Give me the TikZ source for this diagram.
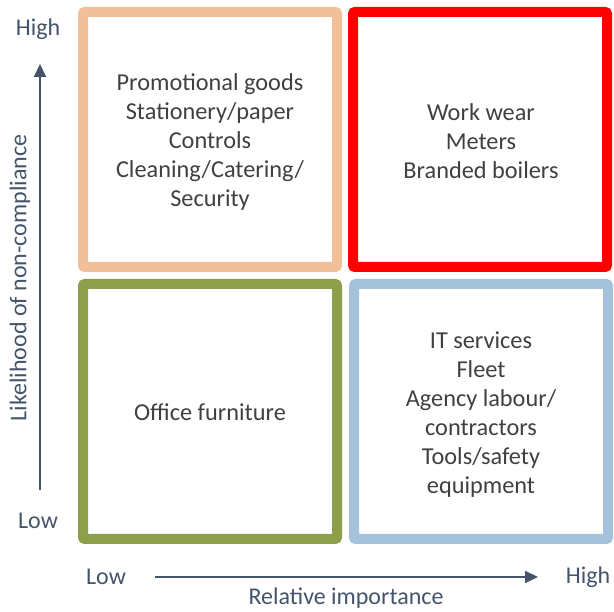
\documentclass[tikz,border=0pt]{standalone}
\usepackage{fontspec}
\setmainfont{Carlito}
\usetikzlibrary{arrows.meta}
\definecolor{cOrange}{HTML}{F2C098}
\definecolor{cRed}{HTML}{FF0000}
\definecolor{cGreen}{HTML}{8E9F4C}
\definecolor{cBlue}{HTML}{A5C2DD}
\definecolor{cAxis}{HTML}{44546A}
\definecolor{cText}{HTML}{404040}
\begin{document}
\begin{tikzpicture}[x=1pt,y=-1pt,
  quad/.style={draw, line width=10pt, rounded corners=2pt, minimum width=254pt, minimum height=255pt, inner sep=0pt, outer sep=0pt, anchor=north west},
  boxtext/.style={text=cText, font=\fontsize{24.3}{29}\selectfont, align=center},
  axlabel/.style={text=cAxis, font=\fontsize{24}{28}\selectfont},
  axis/.style={draw=cAxis, line width=2pt, -{Triangle[length=13pt,width=12pt]}}]
\useasboundingbox (0,0) rectangle (614,612);
\node[quad, draw=cOrange] (q1) at (83,12) {};
\node[quad, draw=cRed] (q2) at (353,12) {};
\node[quad, draw=cGreen] (q3) at (83,284) {};
\node[quad, draw=cBlue] (q4) at (354,284) {};
\node[boxtext] (t1) at (210,142) {Promotional goods\\Stationery/paper\\Controls\\Cleaning/Catering/\\Security};
\node[boxtext] (t2) at (481,141) {Work wear\\Meters\\Branded boilers};
\node[boxtext] (t3) at (210,412) {Office furniture};
\node[boxtext] (t4) at (481,415) {IT services\\Fleet\\Agency labour/\\contractors\\Tools/safety\\equipment};
\node[axlabel] (yhigh) at (38,29) {High};
\node[axlabel] (ylow) at (38,521) {Low};
\node[axlabel] (xlow) at (106,577) {Low};
\node[axlabel] (xhigh) at (588,577) {High};
\node[axlabel] (xtitle) at (346,598) {Relative importance};
\node[axlabel, rotate=90] (ytitle) at (20,278) {Likelihood of non-compliance};
\coordinate (ys) at (40,490);
\coordinate (ye) at (40,64);
\coordinate (xs) at (155,577);
\coordinate (xe) at (538,577);
\draw[axis] (ys) -- (ye);
\draw[axis] (xs) -- (xe);
\end{tikzpicture}
\end{document}
